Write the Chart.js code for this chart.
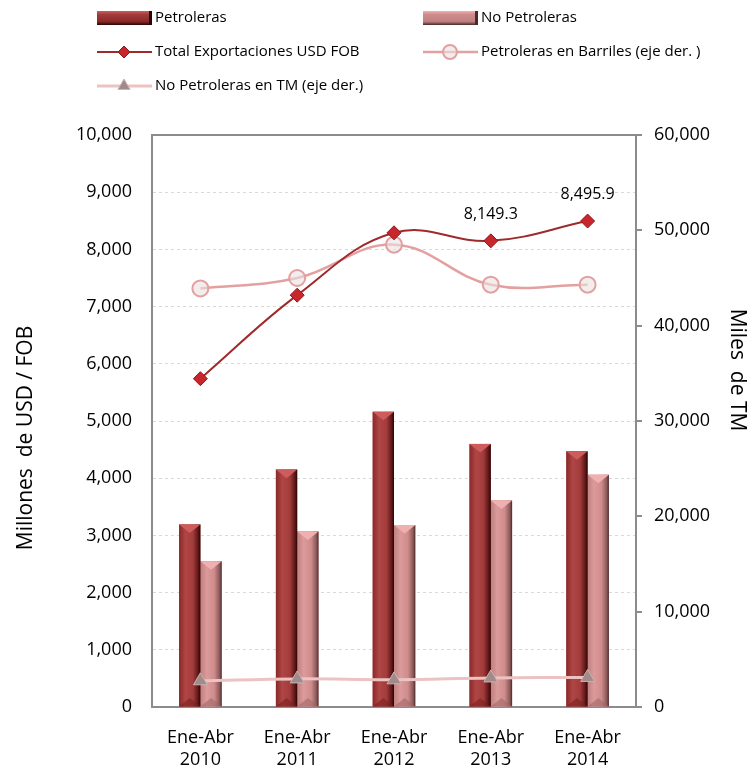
<!DOCTYPE html>
<html>
<head>
<meta charset="utf-8">
<script src="https://cdn.jsdelivr.net/npm/chart.js@4.4.1/dist/chart.umd.min.js"></script>
<style>
  html, body { margin: 0; padding: 0; background: #fff; }
  #wrap { width: 754px; height: 768px; }
</style>
</head>
<body>
<div id="wrap"><canvas id="exportChart" width="754" height="768"></canvas></div>
<script>
// chart values
const categories = [['Ene-Abr', '2010'], ['Ene-Abr', '2011'], ['Ene-Abr', '2012'], ['Ene-Abr', '2013'], ['Ene-Abr', '2014']];
const petroleras = [3190, 4150, 5160, 4600, 4470];
const noPetroleras = [2550, 3070, 3180, 3610, 4060];
const totalFob = [5740, 7200, 8290, 8149.3, 8495.9];
const barrilesDer = [43900, 45000, 48500, 44300, 44300];
const tmDer = [2750, 2950, 2850, 3050, 3100];
const leftTicks = [0, 1000, 2000, 3000, 4000, 5000, 6000, 7000, 8000, 9000, 10000];
const rightTicks = [0, 10000, 20000, 30000, 40000, 50000, 60000];
const labelledPoints = [3, 4];   // only these show a value label

const FONT = "'Open Sans', 'DejaVu Sans', sans-serif";
const fmt = v => v.toLocaleString('en-US');
const AXIS_GRAY = '#8c8c8c';

// bevel look for the bars
const barBevel = {
  id: 'barBevel',
  afterDatasetDraw(chart, args) {
    const ds = chart.data.datasets[args.index];
    if (!ds.bevel) return;
    const ctx = chart.ctx;
    const b = ds.bevel;
    args.meta.data.forEach(bar => {
      const { x, y, base, width } = bar.getProps(['x', 'y', 'base', 'width'], true);
      const l = x - width / 2, r = x + width / 2;
      const g = ctx.createLinearGradient(l, 0, r, 0);
      g.addColorStop(0, b.left);
      g.addColorStop(0.3, b.mid);
      g.addColorStop(0.65, b.mid2);
      g.addColorStop(0.9, b.right);
      g.addColorStop(1, b.edge);
      ctx.save();
      ctx.fillStyle = g;
      ctx.fillRect(l, y, width, base - y);
      const d = width * 0.4;
      ctx.fillStyle = b.top;
      ctx.beginPath(); ctx.moveTo(l, y); ctx.lineTo(r, y); ctx.lineTo(x, y + d); ctx.closePath(); ctx.fill();
      ctx.globalAlpha = 0.6;
      ctx.fillStyle = b.bottom;
      ctx.beginPath(); ctx.moveTo(l, base); ctx.lineTo(r, base); ctx.lineTo(x, base - d); ctx.closePath(); ctx.fill();
      ctx.restore();
    });
  }
};

// frame line on top + axis titles + the two value labels
const extras = {
  id: 'extras',
  afterDatasetsDraw(chart) {
    const { ctx, chartArea } = chart;
    ctx.save();
    ctx.strokeStyle = AXIS_GRAY;
    ctx.lineWidth = 2;
    ctx.beginPath();
    ctx.moveTo(chartArea.left, chartArea.top);
    ctx.lineTo(chartArea.right, chartArea.top);
    ctx.stroke();

    ctx.fillStyle = '#000';
    ctx.textAlign = 'center';
    ctx.textBaseline = 'middle';
    ctx.font = `21px ${FONT}`;
    ctx.translate(26, 438);
    ctx.rotate(-Math.PI / 2);
    ctx.fillText('Millones  de USD / FOB', 0, 0);
    ctx.setTransform(1, 0, 0, 1, 0, 0);
    ctx.font = `21px ${FONT}`;
    ctx.translate(737, 370);
    ctx.rotate(Math.PI / 2);
    ctx.fillText('Miles  de TM', 0, 0);
    ctx.setTransform(1, 0, 0, 1, 0, 0);

    const meta = chart.getDatasetMeta(0);
    ctx.font = `16px ${FONT}`;
    ctx.textBaseline = 'alphabetic';
    labelledPoints.forEach(i => {
      const p = meta.data[i];
      ctx.fillText(fmt(totalFob[i]), p.x, p.y - 22);
    });
    ctx.restore();
  }
};

// two-column legend like the original
const gridLegend = {
  id: 'gridLegend',
  afterDraw(chart) {
    const { ctx } = chart;
    const ds = chart.data.datasets;
    const items = [
      { ds: ds[3], col: 0, row: 0 }, { ds: ds[4], col: 1, row: 0 },
      { ds: ds[0], col: 0, row: 1 }, { ds: ds[1], col: 1, row: 1 },
      { ds: ds[2], col: 0, row: 2 }
    ];
    const colX = [97, 423], rowY = [18, 52, 86];
    ctx.save();
    items.forEach(it => {
      const x = colX[it.col], y = rowY[it.row], d = it.ds;
      if (d.type === 'bar') {
        const b = d.bevel;
        const g = ctx.createLinearGradient(0, y - 7, 0, y + 7);
        g.addColorStop(0, b.top);
        g.addColorStop(0.25, b.mid2);
        g.addColorStop(0.75, b.left);
        g.addColorStop(1, b.edge);
        ctx.fillStyle = g;
        ctx.fillRect(x, y - 7, 55, 14);
        ctx.fillStyle = b.edge;
        ctx.fillRect(x + 52, y - 7, 3, 14);
      } else {
        ctx.strokeStyle = d.borderColor;
        ctx.lineWidth = d.borderWidth;
        ctx.beginPath(); ctx.moveTo(x, y); ctx.lineTo(x + 55, y); ctx.stroke();
        ctx.fillStyle = d.pointBackgroundColor;
        ctx.strokeStyle = d.pointBorderColor;
        ctx.lineWidth = d.pointBorderWidth;
        Chart.helpers.drawPoint(ctx, { pointStyle: d.pointStyle, radius: d.pointRadius - 1, rotation: 0, borderWidth: d.pointBorderWidth }, x + 27, y);
      }
      ctx.fillStyle = '#000';
      ctx.font = `15px ${FONT}`;
      ctx.textAlign = 'left';
      ctx.textBaseline = 'middle';
      ctx.fillText(d.label, x + 58, y);
    });
    ctx.restore();
  }
};

const ctx = document.getElementById('exportChart').getContext('2d');
const exportChart = new Chart(ctx, {
  data: {
    labels: categories,
    datasets: [
      {
        type: 'line',
        label: 'Total Exportaciones USD FOB',
        data: totalFob,
        yAxisID: 'y',
        order: 0,
        borderColor: '#9e2a2b',
        borderWidth: 2,
        tension: 0.4,
        pointStyle: 'rectRot',
        pointRadius: 7,
        pointBackgroundColor: '#c8262c',
        pointBorderColor: '#8b1a1a',
        pointBorderWidth: 1
      },
      {
        type: 'line',
        label: 'Petroleras en Barriles (eje der. )',
        data: barrilesDer,
        yAxisID: 'y1',
        order: 0,
        borderColor: '#e3a0a0',
        borderWidth: 2.5,
        tension: 0.4,
        pointStyle: 'circle',
        pointRadius: 8,
        pointBackgroundColor: 'rgba(235,225,225,0.6)',
        pointBorderColor: '#e3a0a0',
        pointBorderWidth: 2
      },
      {
        type: 'line',
        label: 'No Petroleras en TM (eje der.)',
        data: tmDer,
        yAxisID: 'y1',
        order: 0,
        borderColor: '#ebc3c3',
        borderWidth: 3,
        tension: 0.4,
        pointStyle: 'triangle',
        pointRadius: 8,
        pointBackgroundColor: '#a08a8a',
        pointBorderColor: '#c9b3b3',
        pointBorderWidth: 1
      },
      {
        type: 'bar',
        label: 'Petroleras',
        data: petroleras,
        yAxisID: 'y',
        order: 1,
        backgroundColor: '#a8403f',
        bevel: { left: '#8a2828', mid: '#b04646', mid2: '#a33c3c', right: '#5c1515', edge: '#2a0505', top: '#cf5c5c', bottom: '#7a2020' }
      },
      {
        type: 'bar',
        label: 'No Petroleras',
        data: noPetroleras,
        yAxisID: 'y',
        order: 1,
        backgroundColor: '#d69090',
        bevel: { left: '#c08080', mid: '#dc9a9a', mid2: '#d08c8c', right: '#8a5858', edge: '#4a2a2a', top: '#f0b0b0', bottom: '#a06868' }
      }
    ]
  },
  options: {
    responsive: false,
    animation: false,
    devicePixelRatio: 1,
    layout: { padding: { top: 135, left: 0, right: 0, bottom: 0 } },
    datasets: { bar: { barPercentage: 1, categoryPercentage: 0.44 } },
    plugins: {
      legend: { display: false },
      tooltip: { enabled: false }
    },
    scales: {
      x: {
        grid: { display: false },
        border: { color: AXIS_GRAY, width: 2 },
        ticks: { color: '#000', font: { family: FONT, size: 18, lineHeight: 1.2 }, padding: 12, maxRotation: 0 },
        afterFit(scale) { scale.height = 61; }
      },
      y: {
        position: 'left',
        min: 0,
        max: 10000,
        afterBuildTicks(scale) { scale.ticks = leftTicks.map(v => ({ value: v })); },
        grid: { color: '#d9d9d9', lineWidth: 1, drawTicks: false },
        border: { color: AXIS_GRAY, width: 2, dash: [3, 3] },
        ticks: { color: '#000', font: { family: FONT, size: 18 }, padding: 20, callback: v => fmt(v) },
        afterFit(scale) { scale.width = 152; }
      },
      y1: {
        position: 'right',
        min: 0,
        max: 60000,
        afterBuildTicks(scale) { scale.ticks = rightTicks.map(v => ({ value: v })); },
        grid: { drawOnChartArea: false, color: AXIS_GRAY, tickLength: 6, lineWidth: 2 },
        border: { color: AXIS_GRAY, width: 2 },
        ticks: { color: '#000', font: { family: FONT, size: 18 }, padding: 12, callback: v => fmt(v) },
        afterFit(scale) { scale.width = 118; }
      }
    }
  },
  plugins: [barBevel, extras, gridLegend]
});
</script>
</body>
</html>
